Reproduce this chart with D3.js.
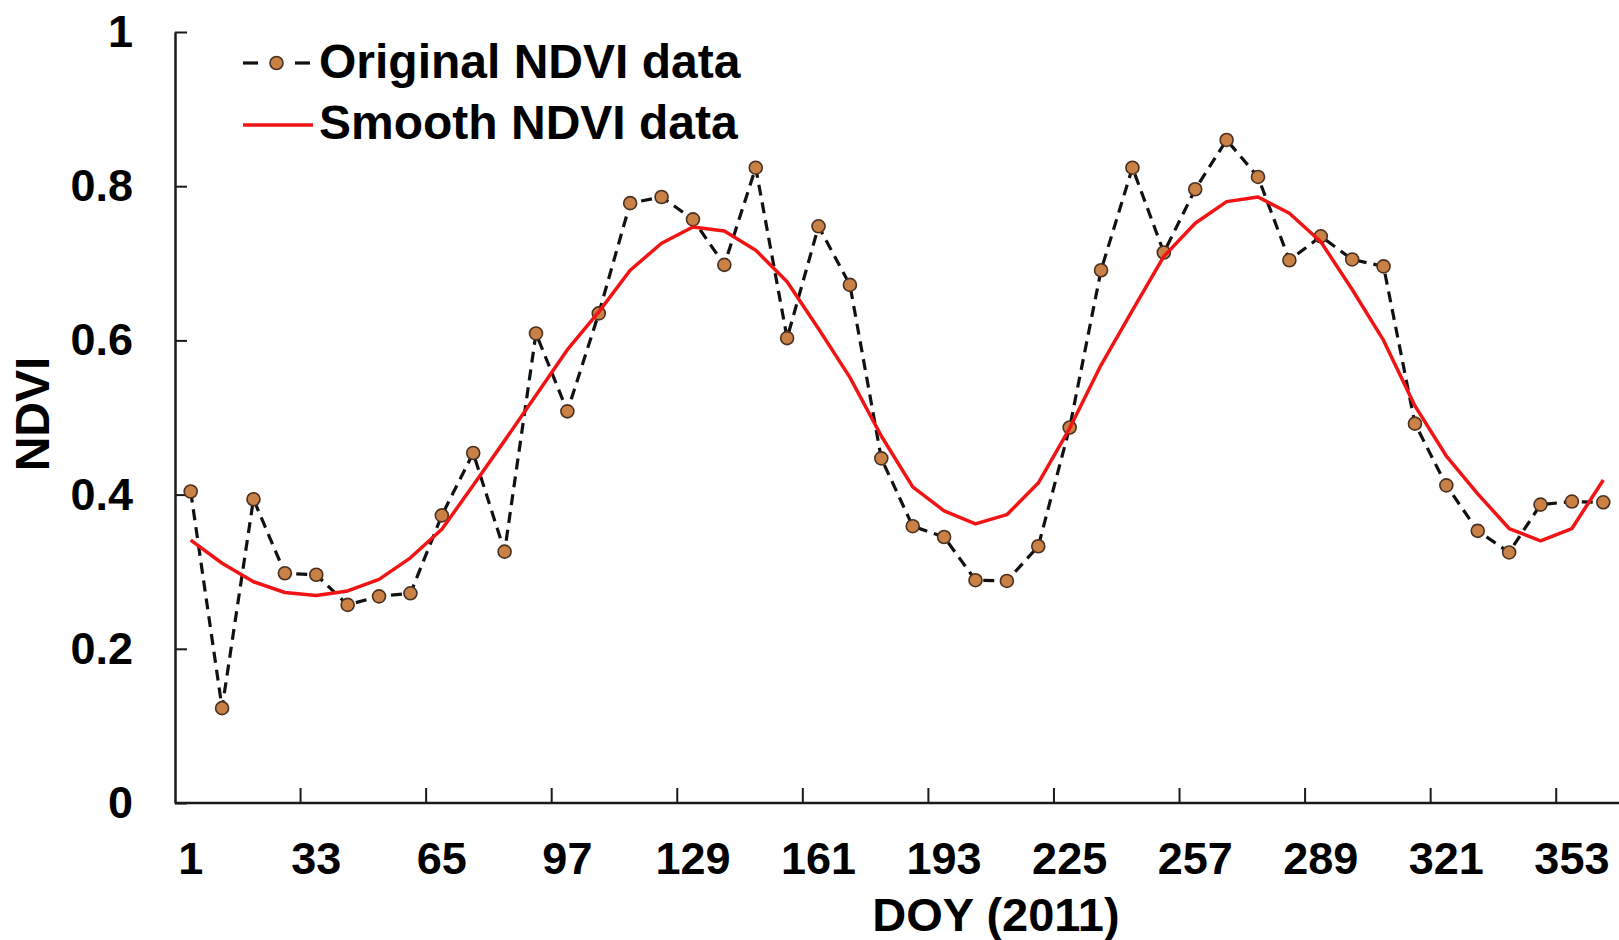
<!DOCTYPE html>
<html><head><meta charset="utf-8">
<script src="https://cdn.jsdelivr.net/npm/d3@7"></script>
<style>
html,body{margin:0;padding:0;background:#fff;}
svg{display:block;}
text{font-family:"Liberation Sans",Arial,sans-serif;font-weight:bold;fill:#000;}
</style>
</head><body>
<svg id="chart" width="1619" height="940"></svg>
<script>
const days = [1,9,17,25,33,41,49,57,65,73,81,89,97,105,113,121,129,137,145,153,161,169,177,185,193,201,209,217,225,233,241,249,257,265,273,281,289,297,305,313,321,329,337,345,353,361];
const originalNDVI = [0.404,0.123,0.394,0.298,0.296,0.257,0.268,0.272,0.373,0.454,0.326,0.609,0.508,0.635,0.778,0.786,0.757,0.698,0.824,0.603,0.748,0.672,0.447,0.359,0.345,0.289,0.288,0.333,0.487,0.691,0.824,0.714,0.796,0.860,0.812,0.704,0.735,0.705,0.696,0.492,0.412,0.353,0.325,0.387,0.391,0.390];
const smoothNDVI = [0.341,0.311,0.287,0.273,0.269,0.275,0.290,0.318,0.355,0.412,0.470,0.529,0.588,0.637,0.691,0.726,0.747,0.742,0.717,0.676,0.615,0.552,0.476,0.410,0.379,0.362,0.374,0.415,0.486,0.568,0.639,0.709,0.752,0.780,0.786,0.765,0.728,0.666,0.600,0.515,0.450,0.401,0.356,0.340,0.356,0.419];
const xTickDays = [1,33,65,97,129,161,193,225,257,289,321,353];
const yTickValues = [0,0.2,0.4,0.6,0.8,1];
const yTickLabels = ["0","0.2","0.4","0.6","0.8","1"];
const seriesNames = ["Original NDVI data","Smooth NDVI data"];
const xTitle = "DOY (2011)";
const yTitle = "NDVI";

const svg = d3.select("#chart");
const x = d3.scaleBand().domain(days).range([175,1619]).padding(0);
const y = d3.scaleLinear().domain([0,1]).range([803,32]);
const cx = d => x(d) + x.bandwidth()/2;
const axisColor = "#1a1a1a";

// X axis labels (centered in categories)
const xAxisG = svg.append("g").attr("transform",`translate(0,${y(0)})`)
  .call(d3.axisBottom(x).tickValues(xTickDays).tickSize(0).tickPadding(39));
xAxisG.select(".domain").remove();
xAxisG.attr("font-family",null).attr("font-size",null);
xAxisG.selectAll("text").attr("font-size",45).attr("fill","#000");

// X axis line and tick marks between categories
svg.append("line").attr("x1",x.range()[0]).attr("x2",x.range()[1])
  .attr("y1",y(0)).attr("y2",y(0)).attr("stroke",axisColor).attr("stroke-width",2.5);
svg.append("g").selectAll("line").data(xTickDays.slice(1)).join("line")
  .attr("x1",d=>x(d)).attr("x2",d=>x(d))
  .attr("y1",y(0)).attr("y2",y(0)-15)
  .attr("stroke",axisColor).attr("stroke-width",2);

// Y axis
const yAxisG = svg.append("g").attr("transform",`translate(${x.range()[0]},0)`)
  .call(d3.axisLeft(y).tickValues(yTickValues).tickFormat((d,i)=>yTickLabels[i])
    .tickSizeInner(-12).tickSizeOuter(0).tickPadding(42));
yAxisG.attr("font-family",null).attr("font-size",null);
yAxisG.select(".domain").attr("stroke",axisColor).attr("stroke-width",2.5);
yAxisG.selectAll(".tick line").attr("stroke",axisColor).attr("stroke-width",2);
yAxisG.selectAll("text").attr("font-size",45).attr("fill","#000");

// Original series: dashed line + markers
const line = d3.line().x((d,i)=>cx(days[i])).y(d=>y(d));
svg.append("path").datum(originalNDVI).attr("d",line)
  .attr("fill","none").attr("stroke","#111").attr("stroke-width",3.2)
  .attr("stroke-dasharray","11,7");
svg.append("g").selectAll("circle").data(originalNDVI).join("circle")
  .attr("cx",(d,i)=>cx(days[i])).attr("cy",d=>y(d)).attr("r",6.5)
  .attr("fill","#c98146").attr("stroke","#4a3020").attr("stroke-width",1.6);

// Smooth series
svg.append("path").datum(smoothNDVI).attr("d",line)
  .attr("fill","none").attr("stroke","#f01414").attr("stroke-width",3.5)
  .attr("stroke-linejoin","round");

// Legend
const lg = svg.append("g");
lg.append("line").attr("x1",243).attr("x2",258).attr("y1",63).attr("y2",63)
  .attr("stroke","#111").attr("stroke-width",3.2);
lg.append("line").attr("x1",295).attr("x2",310).attr("y1",63).attr("y2",63)
  .attr("stroke","#111").attr("stroke-width",3.2);
lg.append("circle").attr("cx",276.5).attr("cy",63).attr("r",6.5)
  .attr("fill","#c98146").attr("stroke","#4a3020").attr("stroke-width",1.6);
lg.append("text").attr("x",319).attr("y",78).attr("font-size",48).text(seriesNames[0]);
lg.append("line").attr("x1",243).attr("x2",313).attr("y1",125).attr("y2",125)
  .attr("stroke","#f01414").attr("stroke-width",3.5);
lg.append("text").attr("x",319).attr("y",139).attr("font-size",48).text(seriesNames[1]);

// Axis titles
svg.append("text").attr("x",996).attr("y",931).attr("text-anchor","middle")
  .attr("font-size",47).text(xTitle);
svg.append("text").attr("transform","translate(49,414) rotate(-90)")
  .attr("text-anchor","middle").attr("font-size",48).text(yTitle);
</script>
</body></html>
